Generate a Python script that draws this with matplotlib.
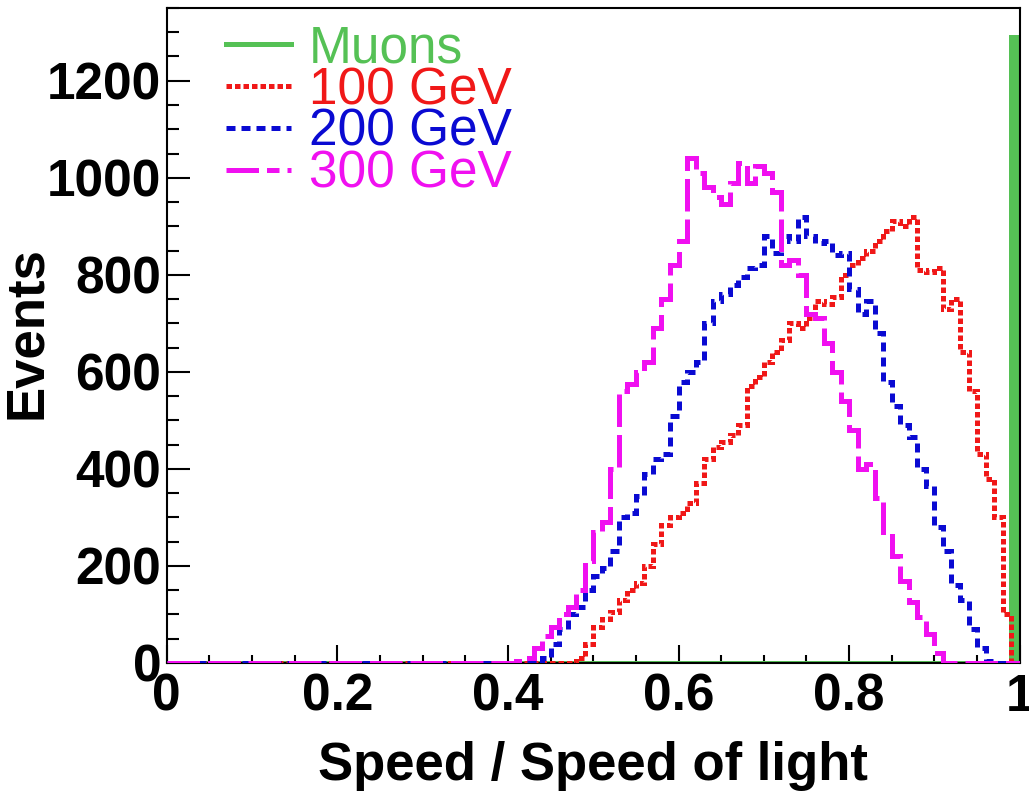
import numpy as np
import matplotlib
matplotlib.use('Agg')
import matplotlib.pyplot as plt
from matplotlib.lines import Line2D
from matplotlib.ticker import MultipleLocator

# ---- data (100 bins of width 0.01 from 0 to 1) ----
n_bins = 100
x_min, x_max = 0.0, 1.0

muon_start = 0.99
muon_counts = [1290]

gev100_start = 0.48
gev100_counts = [10, 40, 75, 90, 105, 130, 150, 165, 200, 245, 285, 300, 310, 330,
                 370, 420, 445, 455, 470, 490, 570, 590, 620, 640, 665, 700, 690,
                 710, 745, 740, 755, 800, 820, 835, 850, 870, 890, 910, 900, 920,
                 810, 805, 815, 730, 750, 640, 560, 430, 380, 300, 100]

gev200_start = 0.44
gev200_counts = [10, 40, 70, 100, 115, 150, 180, 195, 230, 300, 310, 345, 390, 420,
                 430, 510, 580, 600, 620, 700, 745, 760, 780, 795, 815, 820, 880,
                 845, 880, 870, 920, 880, 865, 870, 840, 845, 770, 720, 745, 680,
                 580, 530, 490, 465, 400, 365, 280, 230, 160, 130, 70, 30, 5]

gev300_start = 0.41
gev300_counts = [5, 10, 30, 55, 75, 100, 115, 150, 210, 270, 290, 400, 560, 575,
                 600, 620, 690, 750, 820, 870, 1040, 1010, 980, 960, 945, 990, 1030,
                 990, 1025, 1010, 970, 820, 830, 800, 720, 710, 660, 600, 540, 480,
                 400, 410, 340, 270, 220, 170, 125, 95, 60, 20]

labels = ["Muons", "100 GeV", "200 GeV", "300 GeV"]
x_ticks = [0, 0.2, 0.4, 0.6, 0.8, 1]
x_ticklabels = ["0", "0.2", "0.4", "0.6", "0.8", "1"]
y_ticks = [0, 200, 400, 600, 800, 1000, 1200]

# ---- helpers ----
edges = np.linspace(x_min, x_max, n_bins + 1)


def full_hist(start, counts):
    h = np.zeros(n_bins)
    i0 = int(round(start * n_bins))
    h[i0:i0 + len(counts)] = counts
    return h


c_green = '#55c155'
c_red = '#f01818'
c_blue = '#0a0ad2'
c_mag = '#f010f0'

lw = 3.6
style_red = (0, (1.1, 0.6))
style_blue = (0, (1.8, 1.2))
style_mag = (0, (6.5, 1.6))

fig = plt.figure(figsize=(10.29, 7.94), dpi=100)
ax = fig.add_axes([0.162, 0.165, 0.829, 0.825])

h_mu = full_hist(muon_start, muon_counts)
h100 = full_hist(gev100_start, gev100_counts)
h200 = full_hist(gev200_start, gev200_counts)
h300 = full_hist(gev300_start, gev300_counts)

ax.stairs(h_mu, edges, color=c_green, fill=True, zorder=2)
ax.stairs(h_mu, edges, color=c_green, linewidth=lw, zorder=2)
ax.stairs(h100, edges, color=c_red, linewidth=lw, linestyle=style_red, zorder=3)
ax.stairs(h200, edges, color=c_blue, linewidth=lw, linestyle=style_blue, zorder=4)
ax.stairs(h300, edges, color=c_mag, linewidth=lw, linestyle=style_mag, zorder=5)

ax.set_xlim(x_min, x_max)
ax.set_ylim(0, 1350)

bold_font = 'Liberation Sans'
ax.set_xticks(x_ticks)
ax.set_xticklabels(x_ticklabels, fontfamily=bold_font, fontweight='bold', fontsize=37)
ax.set_yticks(y_ticks)
ax.set_yticklabels([str(v) for v in y_ticks], fontfamily=bold_font, fontweight='bold', fontsize=37)
ax.xaxis.set_minor_locator(MultipleLocator(0.05))
ax.yaxis.set_minor_locator(MultipleLocator(50))
ax.tick_params(axis='x', which='major', direction='in', length=13, width=1.5, pad=7)
ax.tick_params(axis='x', which='minor', direction='in', length=6, width=1.5)
ax.tick_params(axis='y', which='major', direction='in', length=16.5, width=1.5, pad=4)
ax.tick_params(axis='y', which='minor', direction='in', length=8.5, width=1.5)
for s in ax.spines.values():
    s.set_linewidth(1.5)

ax.set_xlabel("Speed / Speed of light", fontfamily=bold_font, fontweight='bold',
              fontsize=38, labelpad=14)
ax.set_ylabel("Events", fontfamily=bold_font, fontweight='bold', fontsize=38)
ax.yaxis.set_label_coords(-0.134, 0.504)

handles = [
    Line2D([], [], color=c_green, linewidth=lw),
    Line2D([], [], color=c_red, linewidth=lw, linestyle=style_red),
    Line2D([], [], color=c_blue, linewidth=lw, linestyle=style_blue),
    Line2D([], [], color=c_mag, linewidth=lw, linestyle=(0, (6.5, 1.6, 2.5, 1.6))),
]
leg = ax.legend(handles, labels, loc='upper left', bbox_to_anchor=(0.07, 0.975),
                frameon=False, prop={'family': 'Liberation Sans', 'size': 37},
                handlelength=1.25, handletextpad=0.35, labelspacing=-0.14,
                borderpad=0, borderaxespad=0)
for t, c in zip(leg.get_texts(), [c_green, c_red, c_blue, c_mag]):
    t.set_color(c)

fig.savefig('out.png', dpi=100)
